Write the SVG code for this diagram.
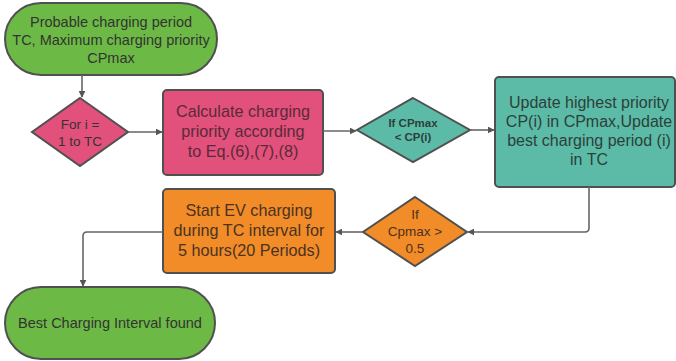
<svg xmlns="http://www.w3.org/2000/svg" width="676" height="361" viewBox="0 0 676 361">
<style>
.s{stroke:#505050;stroke-width:2}
.g{fill:#6cba45}
.p{fill:#e1517c}
.t{fill:#5bbba7}
.o{fill:#f28c28}
text{font-family:"Liberation Sans",Arial,sans-serif;fill:#333;text-anchor:middle}
.c{fill:none;stroke:#666;stroke-width:1.6}
</style>
<defs>
<marker id="a" viewBox="0 0 10 10" refX="9" refY="5" markerWidth="7" markerHeight="7" markerUnits="userSpaceOnUse" orient="auto"><path d="M0,0L10,5L0,10z" fill="#555"/></marker>
</defs>
<g id="start">
<rect class="s g" x="5" y="3" width="212" height="72" rx="36"/>
<text font-size="14.5"><tspan x="111" y="27">Probable charging period</tspan><tspan x="111" y="45">TC, Maximum charging priority</tspan><tspan x="111" y="63">CPmax</tspan></text>
</g>
<g id="loop">
<path class="s p" d="M80,98L128,132L80,166L32,132z"/>
<text font-size="13.5"><tspan x="80" y="129">For i =</tspan><tspan x="80" y="146">1 to TC</tspan></text>
</g>
<g id="calc">
<rect class="s p" x="163" y="90" width="160" height="85" rx="4"/>
<text font-size="16.2" style="fill:#5a2a38"><tspan x="243" y="117">Calculate charging</tspan><tspan x="243" y="137">priority according</tspan><tspan x="243" y="157">to Eq.(6),(7),(8)</tspan></text>
</g>
<g id="cond1">
<path class="s t" d="M413,98L470,130L413,162L357,130z"/>
<text font-size="11.5" font-weight="bold" style="fill:#2e3f3a"><tspan x="413" y="127">If CPmax</tspan><tspan x="413" y="141">&lt; CP(i)</tspan></text>
</g>
<g id="update">
<rect class="s t" x="495" y="77" width="180" height="110" rx="4"/>
<text font-size="16" style="fill:#2e3f3a"><tspan x="589" y="108">Update highest priority</tspan><tspan x="589" y="127">CP(i) in CPmax,Update</tspan><tspan x="589" y="146">best charging period (i)</tspan><tspan x="589" y="165">in TC</tspan></text>
</g>
<g id="cond2">
<path class="s o" d="M415,197L467,232L415,266L363,232z"/>
<text font-size="13.5" style="fill:#4a3220"><tspan x="415" y="219">If</tspan><tspan x="415" y="236">Cpmax &gt;</tspan><tspan x="415" y="253">0.5</tspan></text>
</g>
<g id="charge">
<rect class="s o" x="163" y="189" width="172" height="84" rx="4"/>
<text font-size="16.2" style="fill:#4a3220"><tspan x="249" y="216">Start EV charging</tspan><tspan x="249" y="236">during TC interval for</tspan><tspan x="249" y="256">5 hours(20 Periods)</tspan></text>
</g>
<g id="end">
<rect class="s g" x="5" y="287" width="210" height="72" rx="36"/>
<text font-size="14.5" x="110" y="328">Best Charging Interval found</text>
</g>
<g id="connectors">
<path class="c" d="M82,75V97" marker-end="url(#a)"/>
<path class="c" d="M128,132H162" marker-end="url(#a)"/>
<path class="c" d="M323,131H356" marker-end="url(#a)"/>
<path class="c" d="M470,130H494" marker-end="url(#a)"/>
<path class="c" d="M589,187V228Q589,232 585,232H468" marker-end="url(#a)"/>
<path class="c" d="M363,232H336" marker-end="url(#a)"/>
<path class="c" d="M163,232H87Q83,232 83,236V286" marker-end="url(#a)"/>
</g>
</svg>
